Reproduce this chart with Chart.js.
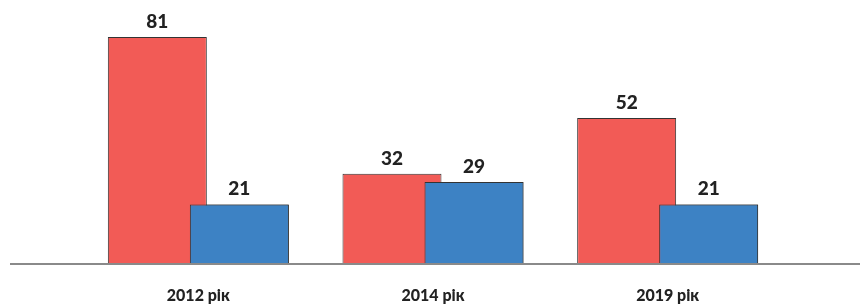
<!DOCTYPE html>
<html><head><meta charset="utf-8">
<script src="https://cdn.jsdelivr.net/npm/chart.js@4.4.0/dist/chart.umd.min.js"></script>
<style>html,body{margin:0;padding:0;background:#fff}#wrap{width:860px;height:307px;position:relative}</style>
</head><body><div id="wrap"><canvas id="c"></canvas></div>
<script>
const categories = ["2012 рік", "2014 рік", "2019 рік"];
const seriesRed = [81, 32, 52];
const seriesBlue = [21, 29, 21];

const FONT = "Lato, 'DejaVu Sans', sans-serif";

const overlayPlugin = {
  id: 'overlay',
  afterDatasetsDraw(chart) {
    const ctx = chart.ctx;
    // redraw blue on top of red
    const metaB = chart.getDatasetMeta(1);
    metaB.data.forEach(el => el.draw(ctx));
    // baseline
    const y0 = chart.scales.y.getPixelForValue(0);
    ctx.save();
    ctx.strokeStyle = '#8a8a8a';
    ctx.lineWidth = 2;
    ctx.beginPath();
    ctx.moveTo(10, y0 + 1);
    ctx.lineTo(chart.width, y0 + 1);
    ctx.stroke();
    // value labels
    ctx.fillStyle = '#222';
    ctx.font = "900 19px " + FONT;
    ctx.textAlign = 'center';
    ctx.textBaseline = 'alphabetic';
    [0, 1].forEach(di => {
      const meta = chart.getDatasetMeta(di);
      meta.data.forEach((el, i) => {
        const v = chart.data.datasets[di].data[i];
        ctx.fillText(String(v), el.x, el.y - 9);
      });
    });
    ctx.restore();
  }
};

new Chart(document.getElementById('c'), {
  type: 'bar',
  data: {
    labels: categories,
    datasets: [
      { data: seriesRed, backgroundColor: '#F25B56', borderColor: '#333', borderWidth: 1 },
      { data: seriesBlue, backgroundColor: '#3D82C4', borderColor: '#333', borderWidth: 1 }
    ]
  },
  options: {
    responsive: true,
    maintainAspectRatio: false,
    animation: false,
    categoryPercentage: 0.699,
    barPercentage: 1.207,
    layout: { padding: { left: 81, right: 75, top: 12, bottom: 0 } },
    plugins: { legend: { display: false }, tooltip: { enabled: false } },
    scales: {
      x: {
        grid: { display: false },
        border: { display: false },
        ticks: { color: '#222', font: { family: FONT, weight: '900', size: 16 }, padding: 15 },
        afterFit: (s) => { s.height = 44; }
      },
      y: { display: false, min: 0, max: 90 }
    }
  },
  plugins: [overlayPlugin]
});
</script></body></html>
